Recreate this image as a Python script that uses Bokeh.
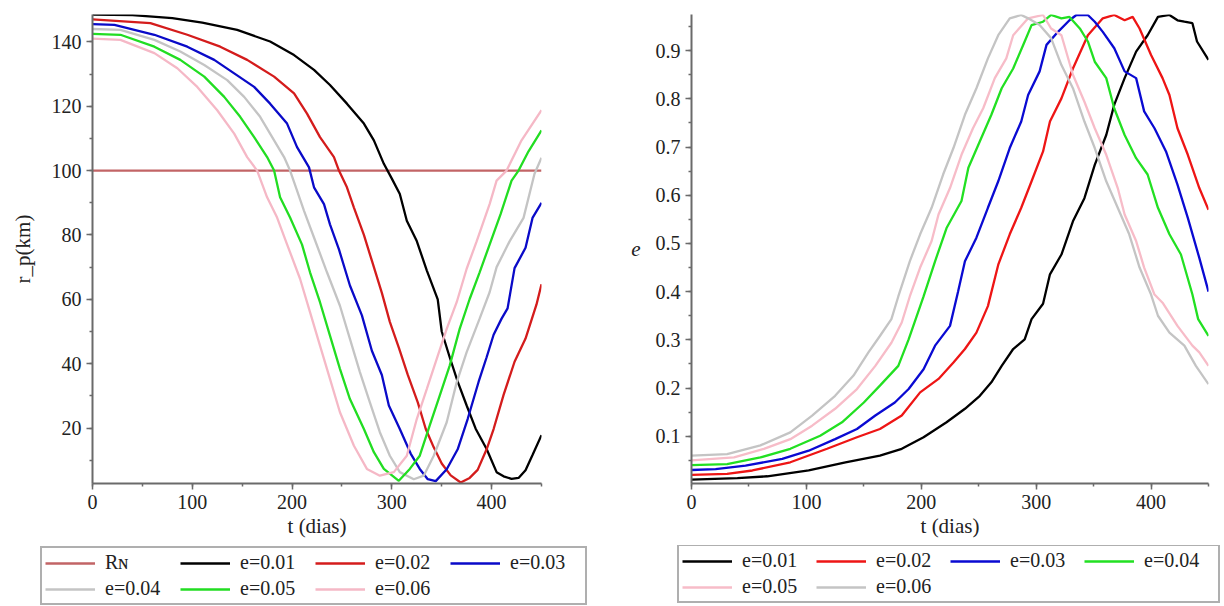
from bokeh.plotting import figure
from bokeh.models import Range1d, SingleIntervalTicker, Legend, LegendItem
from bokeh.layouts import row, column
from bokeh.embed import file_html
from bokeh.resources import INLINE

# ---------------- left chart: periapsis radius r_p (km) vs t (days) ----------------
RN_VALUE = 100
RN_LABEL = "R\u0274"
RN_COLOR = "#c26466"
rp_labels = ["e=0.01", "e=0.02", "e=0.03", "e=0.04", "e=0.05", "e=0.06"]
rp_colors = ["#000000", "#d41c1c", "#0a0ac8", "#c4c4c4", "#22dd22", "#f5b8c6"]

t_rp_01 = [0, 40, 80, 110, 145, 178, 202, 222, 238, 255, 272, 282, 292, 300, 308, 315, 325, 335, 346, 350, 358, 366, 375, 384, 395, 405, 412, 420, 427, 434, 441, 450]
rp_01 = [148.5, 148.3, 147.4, 146.0, 143.7, 140.1, 135.9, 131.3, 126.6, 120.8, 114.6, 109.4, 102.1, 97.5, 92.7, 84.4, 78.1, 69, 60, 50, 42, 34.4, 27, 19.8, 13.5, 6.3, 5, 4.2, 4.5, 6.9, 11.6, 17.8]

t_rp_02 = [0, 58, 95, 128, 155, 182, 202, 215, 228, 242, 247, 255, 262, 272, 280, 290, 298, 307, 316, 326, 334, 342, 350, 359, 369, 378, 386, 395, 402, 412, 423, 434, 445, 450]
rp_02 = [147, 145.8, 142.2, 138.5, 134.4, 129.2, 124, 117.7, 110.4, 104.2, 100, 94.8, 88.5, 80, 72, 62, 53, 45, 36.5, 28, 19.7, 14, 9, 5.3, 3.1, 4.5, 7, 13.4, 19.7, 30.3, 40.6, 47.8, 58.4, 64.7]

t_rp_03 = [0, 22, 62, 95, 122, 142, 162, 178, 195, 205, 217, 222, 232, 238, 247, 258, 270, 280, 290, 297, 308, 319, 328, 336, 344, 355, 366, 376, 387, 395, 402, 410, 416, 423, 434, 441, 450]
rp_03 = [145.5, 145.3, 142.2, 138.5, 134.4, 130.2, 126, 120.8, 114.6, 107.3, 101, 94.8, 89.6, 83.3, 75.5, 64.3, 55, 44, 36.5, 27, 19.7, 12, 7.3, 4.1, 3.5, 7.2, 13.4, 22.8, 34.4, 42, 49, 54, 57.2, 69.7, 76, 85.3, 90]

t_rp_04 = [0, 28, 62, 88, 112, 135, 152, 168, 182, 192, 198, 205, 212, 222, 235, 248, 258, 268, 278, 288, 298, 308, 322, 332, 342, 355, 365, 375, 388, 398, 405, 418, 432, 443, 450]
rp_04 = [144, 143.75, 140.6, 137, 132.8, 128.1, 122.9, 116.7, 109.4, 104.2, 100, 93.75, 87.5, 79.2, 68.4, 58, 47.7, 37.4, 28, 18.7, 11.4, 6.3, 4.1, 5.2, 11.4, 21.8, 34.2, 43.6, 54, 62.2, 70, 78, 85.3, 99, 104]

t_rp_05 = [0, 28, 62, 88, 112, 132, 148, 162, 175, 182, 188, 198, 210, 218, 228, 238, 248, 258, 272, 282, 292, 307, 318, 328, 338, 348, 358, 368, 378, 388, 398, 409, 420, 427, 437, 450]
rp_05 = [142.5, 142.2, 138.5, 134.4, 129.2, 122.9, 116.7, 110.4, 104.2, 100, 91.7, 85.4, 77, 68.4, 59.1, 48.7, 38.4, 29, 19.7, 12.5, 7.3, 3.6, 7.3, 11.4, 20.8, 30.1, 39.4, 50.8, 60.1, 68.4, 77, 86.5, 96.9, 100, 106, 112.5]

t_rp_06 = [0, 28, 62, 85, 105, 125, 142, 155, 165, 175, 185, 195, 208, 218, 228, 238, 248, 262, 275, 288, 302, 315, 325, 335, 345, 355, 365, 375, 385, 398, 405, 415, 430, 450]
rp_06 = [141, 140.6, 136.5, 131.8, 126, 118.75, 111.5, 104.2, 100, 91.7, 85.4, 77.1, 66.4, 56, 45.6, 35.3, 24.9, 14.5, 7.3, 5.2, 6.3, 11.4, 22.8, 32.1, 41.5, 50.8, 59.1, 69.5, 78, 89.6, 96.9, 100, 109.4, 118.75]

# ---------------- right chart: eccentricity e vs t (days) ----------------
e_labels = ["e=0.01", "e=0.02", "e=0.03", "e=0.04", "e=0.05", "e=0.06"]
e_colors = ["#000000", "#ee1515", "#0a0ad2", "#22e022", "#f7bcc8", "#c4c4c4"]

t_e_01 = [0, 40, 66, 102, 134, 164, 183, 202, 222, 238, 251, 261, 270, 280, 290, 296, 306, 312, 322, 332, 342, 351, 361, 368, 377, 387, 397, 406, 416, 423, 429, 436, 440, 450]
e_01 = [0.01, 0.013, 0.017, 0.029, 0.046, 0.06, 0.074, 0.098, 0.129, 0.157, 0.184, 0.212, 0.246, 0.281, 0.301, 0.343, 0.375, 0.436, 0.477, 0.546, 0.594, 0.663, 0.725, 0.788, 0.843, 0.898, 0.932, 0.97, 0.974, 0.963, 0.96, 0.957, 0.919, 0.881]

t_e_02 = [0, 31, 53, 86, 118, 144, 164, 183, 199, 215, 228, 238, 248, 258, 267, 277, 287, 296, 306, 312, 322, 332, 345, 358, 368, 377, 384, 390, 400, 410, 416, 423, 432, 442, 450]
e_02 = [0.02, 0.022, 0.029, 0.046, 0.074, 0.098, 0.115, 0.143, 0.191, 0.219, 0.253, 0.281, 0.315, 0.37, 0.456, 0.519, 0.574, 0.629, 0.691, 0.753, 0.801, 0.863, 0.932, 0.967, 0.974, 0.963, 0.97, 0.946, 0.891, 0.843, 0.808, 0.739, 0.684, 0.615, 0.57]

t_e_03 = [0, 21, 47, 79, 102, 125, 144, 160, 177, 189, 202, 212, 225, 232, 238, 248, 258, 267, 277, 287, 293, 303, 309, 319, 329, 335, 345, 351, 358, 368, 377, 387, 394, 403, 413, 423, 432, 442, 450]
e_03 = [0.03, 0.032, 0.039, 0.053, 0.07, 0.094, 0.115, 0.143, 0.17, 0.198, 0.239, 0.288, 0.329, 0.4, 0.463, 0.512, 0.574, 0.629, 0.698, 0.753, 0.808, 0.857, 0.912, 0.939, 0.963, 0.974, 0.974, 0.96, 0.939, 0.905, 0.857, 0.843, 0.774, 0.739, 0.691, 0.622, 0.553, 0.47, 0.4]

t_e_04 = [0, 31, 60, 86, 112, 131, 150, 164, 180, 189, 202, 212, 222, 235, 241, 251, 261, 270, 280, 290, 296, 306, 313, 322, 329, 338, 345, 351, 361, 368, 377, 387, 397, 406, 416, 426, 436, 441, 450]
e_04 = [0.04, 0.042, 0.056, 0.074, 0.101, 0.129, 0.17, 0.205, 0.246, 0.301, 0.39, 0.463, 0.532, 0.588, 0.657, 0.712, 0.767, 0.822, 0.863, 0.919, 0.953, 0.96, 0.974, 0.967, 0.97, 0.946, 0.919, 0.877, 0.843, 0.78, 0.725, 0.677, 0.643, 0.574, 0.519, 0.477, 0.394, 0.343, 0.308]

t_e_05 = [0, 37, 63, 86, 105, 125, 144, 160, 174, 183, 190, 199, 209, 215, 225, 235, 245, 254, 264, 274, 280, 293, 306, 313, 322, 332, 342, 351, 361, 371, 377, 387, 394, 403, 410, 423, 436, 442, 450]
e_05 = [0.05, 0.056, 0.074, 0.094, 0.122, 0.157, 0.198, 0.246, 0.294, 0.336, 0.39, 0.45, 0.505, 0.56, 0.615, 0.684, 0.739, 0.781, 0.843, 0.884, 0.932, 0.967, 0.974, 0.946, 0.932, 0.85, 0.794, 0.739, 0.684, 0.615, 0.56, 0.505, 0.45, 0.394, 0.377, 0.329, 0.288, 0.274, 0.246]

t_e_06 = [0, 31, 60, 86, 105, 125, 141, 154, 164, 174, 180, 190, 199, 209, 219, 228, 238, 248, 258, 267, 277, 287, 293, 303, 313, 322, 332, 342, 351, 361, 371, 381, 390, 400, 406, 416, 429, 439, 450]
e_06 = [0.06, 0.063, 0.081, 0.108, 0.143, 0.184, 0.226, 0.274, 0.308, 0.343, 0.39, 0.463, 0.519, 0.574, 0.643, 0.698, 0.767, 0.822, 0.884, 0.932, 0.967, 0.974, 0.967, 0.953, 0.926, 0.87, 0.822, 0.753, 0.698, 0.629, 0.574, 0.519, 0.45, 0.394, 0.35, 0.315, 0.288, 0.246, 0.208]

rp_series = [(t_rp_01, rp_01), (t_rp_02, rp_02), (t_rp_03, rp_03), (t_rp_04, rp_04), (t_rp_05, rp_05), (t_rp_06, rp_06)]
e_series = [(t_e_01, e_01), (t_e_02, e_02), (t_e_03, e_03), (t_e_04, e_04), (t_e_05, e_05), (t_e_06, e_06)]

FONT = "Liberation Serif"
AXIS_COL = "#6a6a6a"
LW = 2.3
NAN = float("nan")
LEG_H = 61


def style_axes(p, y_interval):
    p.xaxis.ticker = SingleIntervalTicker(interval=100, num_minor_ticks=2)
    p.yaxis.ticker = SingleIntervalTicker(interval=y_interval, num_minor_ticks=2)
    p.xgrid.visible = False
    p.ygrid.visible = False
    p.outline_line_color = None
    for ax in (p.xaxis[0], p.yaxis[0]):
        ax.axis_line_color = AXIS_COL
        ax.axis_line_width = 2
        ax.major_tick_line_color = AXIS_COL
        ax.minor_tick_line_color = AXIS_COL
        ax.major_tick_line_width = 1.5
        ax.minor_tick_line_width = 1.5
        ax.major_tick_in = 0
        ax.minor_tick_in = 0
        ax.major_tick_out = 6
        ax.minor_tick_out = 3
        ax.major_label_text_font = FONT
        ax.major_label_text_font_size = "20px"
        ax.major_label_text_color = "#222222"
        ax.major_label_standoff = 5
        ax.axis_label_text_font = FONT
        ax.axis_label_text_font_size = "21px"
        ax.axis_label_text_color = "#222222"
        ax.axis_label_text_font_style = "normal"
    p.xaxis.axis_label = "t (dias)"
    p.xaxis.axis_label_standoff = 2


def legend_figure(width, entries, padding, label_width, loc):
    # a strip under each chart that only holds the chart's legend
    lf = figure(width=width, height=LEG_H, output_backend="svg", toolbar_location=None,
                x_range=Range1d(0, 1), y_range=Range1d(0, 1), min_border=0,
                x_axis_location=None, y_axis_location=None)
    lf.grid.visible = False
    lf.outline_line_color = None
    items = []
    for lab, col in entries:
        r = lf.line(x=[NAN], y=[NAN], line_color=col, line_width=2.6)
        items.append(LegendItem(label=lab, renderers=[r]))
    lg = Legend(items=items, orientation="horizontal", ncols=4, location=loc)
    lg.label_text_font = FONT
    lg.label_text_font_size = "20px"
    lg.label_text_color = "#222222"
    lg.glyph_width = 50
    lg.glyph_height = 20
    lg.label_standoff = 10
    lg.label_width = label_width
    lg.spacing = 3
    lg.padding = padding
    lg.margin = 0
    lg.border_line_color = "#606060"
    lg.border_line_width = 2
    lg.background_fill_color = "white"
    lg.background_fill_alpha = 1.0
    lf.add_layout(lg)
    return lf


# ---------------- left figure ----------------
p1 = figure(frame_width=449, frame_height=469, output_backend="svg", toolbar_location=None,
            x_range=Range1d(0, 450), y_range=Range1d(2.77, 148.5),
            min_border_left=92, min_border_right=64, min_border_top=14, min_border_bottom=62)
style_axes(p1, 20)
p1.yaxis.axis_label = "r_p(km)"
p1.yaxis.axis_label_standoff = 14

p1.line([0, 450], [RN_VALUE, RN_VALUE], line_color=RN_COLOR, line_width=2.2)
for (tt, vv), col in zip(rp_series, rp_colors):
    p1.line(tt, vv, line_color=col, line_width=LW)

leg1 = legend_figure(605, [(RN_LABEL, RN_COLOR)] + list(zip(rp_labels, rp_colors)), 3, 72, (40, 1))

# ---------------- right figure ----------------
p2 = figure(frame_width=517, frame_height=469, output_backend="svg", toolbar_location=None,
            x_range=Range1d(0, 450), y_range=Range1d(0.002, 0.975),
            min_border_left=86, min_border_right=16, min_border_top=13, min_border_bottom=63)
style_axes(p2, 0.1)
p2.yaxis.axis_label = "e"
p2.yaxis.axis_label_text_font_style = "italic"
p2.yaxis.axis_label_orientation = "horizontal"
p2.yaxis.axis_label_standoff = 12

for (tt, vv), col in zip(e_series, e_colors):
    p2.line(tt, vv, line_color=col, line_width=LW)

leg2 = legend_figure(619, list(zip(e_labels, e_colors)), 3, 71, (72, 3))

layout = column(row(p1, p2, spacing=0), row(leg1, leg2, spacing=0), spacing=0)
open("out.html", "w").write(file_html(layout, INLINE))
